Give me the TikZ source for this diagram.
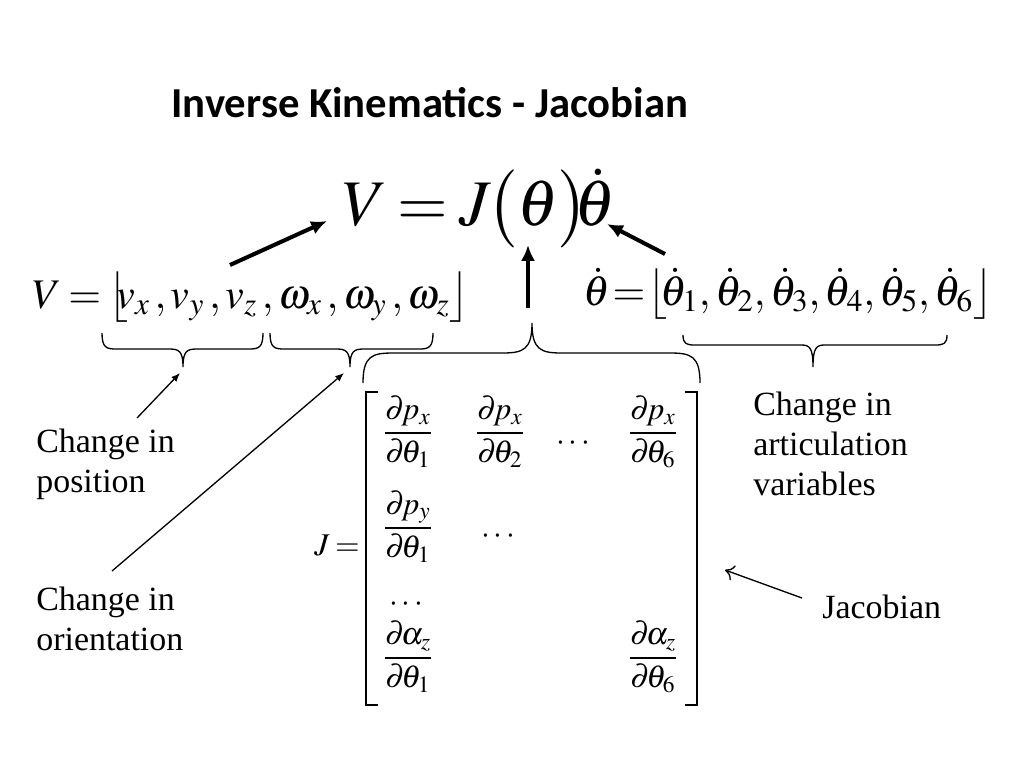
\documentclass[tikz,border=0pt]{standalone}
\usepackage{amsmath}
\usepackage{mathptmx}
\usepackage[no-math]{fontspec}
\setmainfont{Liberation Serif}
\newfontfamily\titlefont{Carlito}
\usetikzlibrary{arrows.meta}
\tikzstyle{heading} = [font=\titlefont\bfseries\fontsize{24.3}{29}\selectfont, inner sep=0pt]
\tikzstyle{bigeq} = [font=\fontsize{37}{44}\selectfont, inner sep=0pt]
\tikzstyle{vec} = [font=\fontsize{24}{29}\selectfont, inner sep=0pt]
\tikzstyle{entry} = [font=\fontsize{18}{22}\selectfont, inner sep=0pt]
\tikzstyle{note} = [font=\fontsize{19.3}{22.7}\selectfont, align=left, inner sep=0pt]
\tikzstyle{fat arrow} = [draw, line width=2.3pt, -{Latex[length=9pt,width=8pt]}]
\tikzstyle{pointer} = [draw, line width=0.75pt, -{Latex[length=5pt,width=4pt]}]
\tikzstyle{open pointer} = [draw, line width=0.75pt, -{To[length=5pt,width=9pt]}]
\tikzstyle{curlyline} = [draw, line width=0.75pt]
\tikzstyle{bracket} = [draw, line width=1.1pt]
\thickmuskip=3mu plus 2mu
% #1 left x, #2 right x, #3 end y, #4 tip x, #5 arm offset, #6 tip offset, #7 curl width
\newcommand{\bracepath}[7]{%
  \draw [curlyline] (#1,#3)
    .. controls (#1,{#3+0.9*(#5)}) and ({#1+0.3*#7},{#3+(#5)}) .. ({#1+#7},{#3+(#5)})
    -- ({#4-#7},{#3+(#5)})
    .. controls ({#4-0.3*#7},{#3+(#5)}) and (#4,{#3+(#5)+0.1*((#6)-(#5))}) .. (#4,{#3+(#6)})
    .. controls (#4,{#3+(#5)+0.1*((#6)-(#5))}) and ({#4+0.3*#7},{#3+(#5)}) .. ({#4+#7},{#3+(#5)})
    -- ({#2-#7},{#3+(#5)})
    .. controls ({#2-0.3*#7},{#3+(#5)}) and (#2,{#3+0.9*(#5)}) .. (#2,#3);}
\newcommand{\pd}{\partial\mkern-2mu}

\begin{document}
\begin{tikzpicture}[x=0.02cm, y=-0.02cm]
    \fill[white] (0,0) rectangle (1024,768);
    \useasboundingbox (0,0) rectangle (1024,768);

    % title and main law
    \node [heading, anchor=base west] (title) at (171,117) {Inverse Kinematics - Jacobian};
    \node [bigeq, anchor=base west] (law) at (342,225)
        {$V = J\mkern-1mu\mathopen{}\left(\vrule height 30pt depth 12pt width 0pt\theta\right)\mathclose{}\mkern-4mu\dot{\theta}$};

    % the two vectors
    \node [vec, anchor=base west] (vvec) at (32,308)
        {$V = \mathopen{}\left\lfloor\vrule height 20pt depth 9pt width 0pt\mkern-5mu v_x\mkern2mu, v_y\mkern2mu, v_z\mkern2mu, \omega_x\mkern2mu, \omega_y\mkern2mu, \omega_z\right\rfloor$};
    \node [vec, anchor=base west] (tvec) at (583,305)
        {$\dot{\theta}\mkern-2mu =\mkern-2mu \mathopen{}\left\lfloor\vrule height 20pt depth 9pt width 0pt\mkern-3mu \dot{\theta}_1, \dot{\theta}_2, \dot{\theta}_3, \dot{\theta}_4, \dot{\theta}_5, \dot{\theta}_6\right\rfloor$};

    % Jacobian matrix
    \node [entry, anchor=base east] (jeq) at (360,555) {$J =$};
    \node [entry, anchor=base] (e11) at (408,441) {$\dfrac{\pd p_x}{\pd\theta_1}$};
    \node [entry, anchor=base] (e12) at (500,441) {$\dfrac{\pd p_x}{\pd\theta_2}$};
    \node [entry, anchor=base] (e13) at (575,450) {$\cdots$};
    \node [entry, anchor=base] (e16) at (653,441) {$\dfrac{\pd p_x}{\pd\theta_6}$};
    \node [entry, anchor=base] (e21) at (408,536) {$\dfrac{\pd p_y}{\pd\theta_1}$};
    \node [entry, anchor=base] (e22) at (500,543) {$\cdots$};
    \node [entry, anchor=base] (e31) at (408,611) {$\cdots$};
    \node [entry, anchor=base] (e61) at (408,666) {$\dfrac{\pd \alpha_z}{\pd\theta_1}$};
    \node [entry, anchor=base] (e66) at (653,666) {$\dfrac{\pd \alpha_z}{\pd\theta_6}$};
    \draw [bracket] (378,392) -- (366,392) -- (366,705) -- (378,705);
    \draw [bracket] (685,392) -- (697,392) -- (697,705) -- (685,705);

    % braces
    \bracepath{102}{263}{333}{183}{16}{34}{14}
    \bracepath{270}{433}{333}{350}{16}{34}{14}
    \bracepath{363}{700}{383}{532}{-30}{-60}{30}
    \bracepath{683}{947}{335}{813}{10}{32}{12}
    \coordinate (postip) at (180,373);
    \coordinate (orntip) at (344,373);
    \coordinate (jactip) at (532,323);
    \coordinate (arttip) at (813,367);

    % notes
    \node [note, anchor=base west] (posnote) at (36,492) {Change in\\position};
    \node [note, anchor=base west] (ornnote) at (36,650) {Change in\\orientation};
    \node [note, anchor=base west] (artnote) at (753,495) {Change in\\articulation\\variables};
    \node [note, anchor=base west] (jacnote) at (822,618) {Jacobian};
    \coordinate (postail) at (137,418);
    \coordinate (orntail) at (112,571);
    \coordinate (jactail) at (802,598);
    \coordinate (jacend) at (725,570);

    % arrows
    \coordinate (vtail) at (230,265);
    \coordinate (vhead) at (327,221);
    \coordinate (jtail) at (528,308);
    \coordinate (jhead) at (528,245);
    \coordinate (ttail) at (665,254);
    \coordinate (thead) at (607,224);
    \draw [fat arrow] (vtail) -- (vhead);
    \draw [fat arrow] (jtail) -- (jhead);
    \draw [fat arrow] (ttail) -- (thead);
    \draw [pointer] (postail) -- (postip);
    \draw [pointer] (orntail) -- (orntip);
    \draw [open pointer] (jactail) -- (jacend);
\end{tikzpicture}
\end{document}
